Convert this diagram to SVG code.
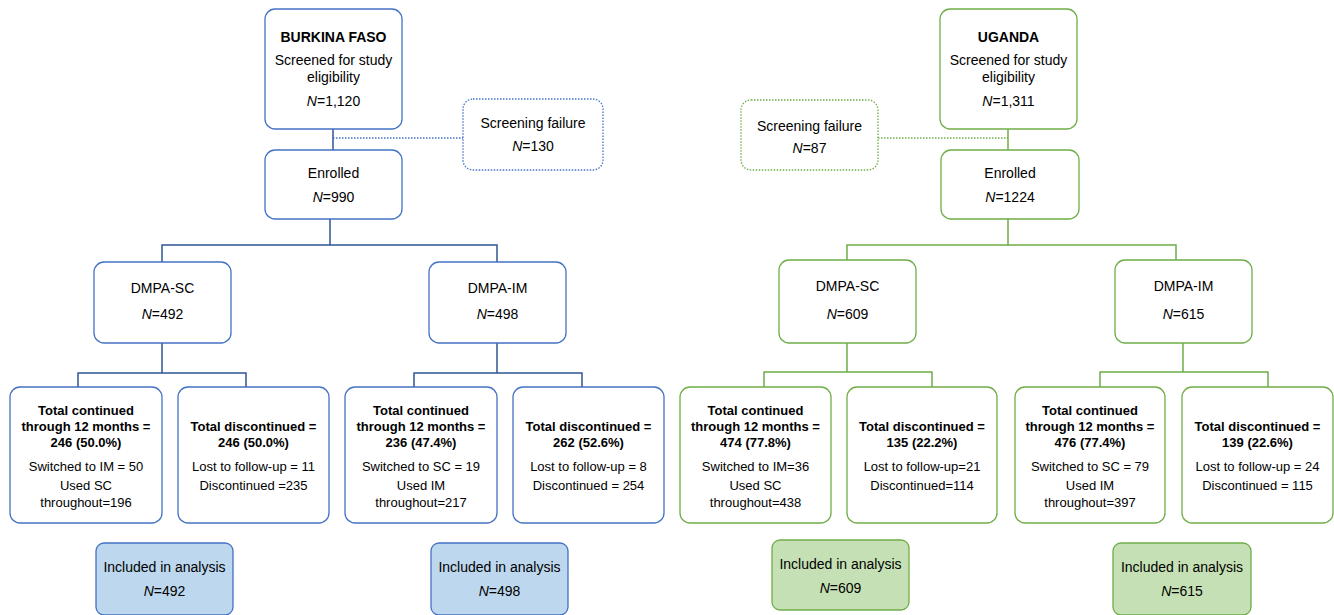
<svg xmlns="http://www.w3.org/2000/svg" width="1334" height="615" viewBox="0 0 1334 615">
<style>
text{font-family:"Liberation Sans",Arial,sans-serif;fill:#000;text-anchor:middle}
.t14{font-size:14px}
.t13{font-size:13px}
.b{font-weight:bold}
.bb{font-weight:bold;font-size:13px}
.bl{fill:#fff;stroke:#4472C4;stroke-width:1.3}
.gr{fill:#fff;stroke:#70AD47;stroke-width:1.3}
.bld{fill:#fff;stroke:#4472C4;stroke-width:1.3;stroke-dasharray:1.5 1.5}
.grd{fill:#fff;stroke:#70AD47;stroke-width:1.3;stroke-dasharray:1.5 1.5}
.blf{fill:#BDD7EE;stroke:#4472C4;stroke-width:1.3}
.grf{fill:#C5E0B4;stroke:#70AD47;stroke-width:1.3}
.cb{fill:none;stroke:#2F5597;stroke-width:1.5}
.cg{fill:none;stroke:#70AD47;stroke-width:1.5}
.cbd{fill:none;stroke:#4472C4;stroke-width:1.3;stroke-dasharray:1.5 1.5}
.cgd{fill:none;stroke:#70AD47;stroke-width:1.3;stroke-dasharray:1.5 1.5}
</style>
<g id="connectors">
<path class="cb" d="M333 129V150"/>
<path class="cbd" d="M333 138H463"/>
<path class="cb" d="M330 219V245M162 262V245H497V262"/>
<path class="cb" d="M162 343V373M78 387V373H246V387"/>
<path class="cb" d="M497 343V373M414 387V373H582V387"/>
<path class="cg" d="M1008 129V150"/>
<path class="cgd" d="M878 138H1008"/>
<path class="cg" d="M1008 219V245M847 260V245H1176V260"/>
<path class="cg" d="M847 343V372M764 387V372H932V387"/>
<path class="cg" d="M1183 343V372M1100 387V372H1268V387"/>
</g>
<g id="bf-screened"><rect class="bl" x="265" y="9" width="137" height="120" rx="10"/>
<text class="t14 b" x="333.5" y="42">BURKINA FASO</text>
<text class="t14" x="333.5" y="65">Screened for study</text>
<text class="t14" x="333.5" y="82">eligibility</text>
<text class="t14" x="333.5" y="106"><tspan font-style="italic">N</tspan>=1,120</text></g>
<g id="bf-fail"><rect class="bld" x="463" y="99" width="140" height="71" rx="10"/>
<text class="t14" x="533" y="128">Screening failure</text>
<text class="t14" x="533" y="151"><tspan font-style="italic">N</tspan>=130</text></g>
<g id="bf-enrolled"><rect class="bl" x="265" y="150" width="137" height="69" rx="10"/>
<text class="t14" x="333.5" y="178">Enrolled</text>
<text class="t14" x="333.5" y="202"><tspan font-style="italic">N</tspan>=990</text></g>
<g id="bf-sc"><rect class="bl" x="94" y="262" width="137" height="81" rx="10"/>
<text class="t14" x="162.5" y="293">DMPA-SC</text>
<text class="t14" x="162.5" y="319"><tspan font-style="italic">N</tspan>=492</text></g>
<g id="bf-im"><rect class="bl" x="429" y="262" width="137" height="81" rx="10"/>
<text class="t14" x="497.5" y="293">DMPA-IM</text>
<text class="t14" x="497.5" y="319"><tspan font-style="italic">N</tspan>=498</text></g>
<g id="bf-sc-cont"><rect class="bl" x="10" y="387" width="152" height="136" rx="10"/>
<text class="bb" x="86" y="415">Total continued</text>
<text class="bb" x="86" y="431">through 12 months =</text>
<text class="bb" x="86" y="447">246 (50.0%)</text>
<text class="t13" x="86" y="471">Switched to IM = 50</text>
<text class="t13" x="86" y="490">Used SC</text>
<text class="t13" x="86" y="507">throughout=196</text></g>
<g id="bf-sc-disc"><rect class="bl" x="178" y="387" width="151" height="136" rx="10"/>
<text class="bb" x="253.5" y="431">Total discontinued =</text>
<text class="bb" x="253.5" y="447">246 (50.0%)</text>
<text class="t13" x="253.5" y="471">Lost to follow-up = 11</text>
<text class="t13" x="253.5" y="490">Discontinued =235</text></g>
<g id="bf-im-cont"><rect class="bl" x="345" y="387" width="152" height="136" rx="10"/>
<text class="bb" x="421" y="415">Total continued</text>
<text class="bb" x="421" y="431">through 12 months =</text>
<text class="bb" x="421" y="447">236 (47.4%)</text>
<text class="t13" x="421" y="471">Switched to SC = 19</text>
<text class="t13" x="421" y="490">Used IM</text>
<text class="t13" x="421" y="507">throughout=217</text></g>
<g id="bf-im-disc"><rect class="bl" x="513" y="387" width="151" height="136" rx="10"/>
<text class="bb" x="588.5" y="431">Total discontinued =</text>
<text class="bb" x="588.5" y="447">262 (52.6%)</text>
<text class="t13" x="588.5" y="471">Lost to follow-up = 8</text>
<text class="t13" x="588.5" y="490">Discontinued = 254</text></g>
<g id="bf-sc-incl"><rect class="blf" x="96" y="543" width="137" height="72" rx="8"/>
<text class="t14" x="164.5" y="572">Included in analysis</text>
<text class="t14" x="164.5" y="596"><tspan font-style="italic">N</tspan>=492</text></g>
<g id="bf-im-incl"><rect class="blf" x="431" y="543" width="137" height="72" rx="8"/>
<text class="t14" x="499.5" y="572">Included in analysis</text>
<text class="t14" x="499.5" y="596"><tspan font-style="italic">N</tspan>=498</text></g>

<g id="ug-screened"><rect class="gr" x="940" y="9" width="137" height="120" rx="10"/>
<text class="t14 b" x="1008.5" y="42">UGANDA</text>
<text class="t14" x="1008.5" y="65">Screened for study</text>
<text class="t14" x="1008.5" y="82">eligibility</text>
<text class="t14" x="1008.5" y="106"><tspan font-style="italic">N</tspan>=1,311</text></g>
<g id="ug-fail"><rect class="grd" x="741" y="100" width="137" height="70" rx="10"/>
<text class="t14" x="809.5" y="131">Screening failure</text>
<text class="t14" x="809.5" y="153"><tspan font-style="italic">N</tspan>=87</text></g>
<g id="ug-enrolled"><rect class="gr" x="941" y="150" width="138" height="69" rx="10"/>
<text class="t14" x="1010" y="178">Enrolled</text>
<text class="t14" x="1010" y="202"><tspan font-style="italic">N</tspan>=1224</text></g>
<g id="ug-sc"><rect class="gr" x="779" y="260" width="137" height="83" rx="10"/>
<text class="t14" x="847.5" y="291">DMPA-SC</text>
<text class="t14" x="847.5" y="319"><tspan font-style="italic">N</tspan>=609</text></g>
<g id="ug-im"><rect class="gr" x="1115" y="260" width="137" height="83" rx="10"/>
<text class="t14" x="1183.5" y="291">DMPA-IM</text>
<text class="t14" x="1183.5" y="319"><tspan font-style="italic">N</tspan>=615</text></g>
<g id="ug-sc-cont"><rect class="gr" x="680" y="387" width="151" height="136" rx="10"/>
<text class="bb" x="755.5" y="415">Total continued</text>
<text class="bb" x="755.5" y="431">through 12 months =</text>
<text class="bb" x="755.5" y="447">474 (77.8%)</text>
<text class="t13" x="755.5" y="471">Switched to IM=36</text>
<text class="t13" x="755.5" y="490">Used SC</text>
<text class="t13" x="755.5" y="507">throughout=438</text></g>
<g id="ug-sc-disc"><rect class="gr" x="847" y="387" width="150" height="136" rx="10"/>
<text class="bb" x="922" y="431">Total discontinued =</text>
<text class="bb" x="922" y="447">135 (22.2%)</text>
<text class="t13" x="922" y="471">Lost to follow-up=21</text>
<text class="t13" x="922" y="490">Discontinued=114</text></g>
<g id="ug-im-cont"><rect class="gr" x="1015" y="387" width="150" height="136" rx="10"/>
<text class="bb" x="1090" y="415">Total continued</text>
<text class="bb" x="1090" y="431">through 12 months =</text>
<text class="bb" x="1090" y="447">476 (77.4%)</text>
<text class="t13" x="1090" y="471">Switched to SC = 79</text>
<text class="t13" x="1090" y="490">Used IM</text>
<text class="t13" x="1090" y="507">throughout=397</text></g>
<g id="ug-im-disc"><rect class="gr" x="1182" y="387" width="151" height="136" rx="10"/>
<text class="bb" x="1257.5" y="431">Total discontinued =</text>
<text class="bb" x="1257.5" y="447">139 (22.6%)</text>
<text class="t13" x="1257.5" y="471">Lost to follow-up = 24</text>
<text class="t13" x="1257.5" y="490">Discontinued = 115</text></g>
<g id="ug-sc-incl"><rect class="grf" x="772" y="540" width="137" height="70" rx="8"/>
<text class="t14" x="840.5" y="569">Included in analysis</text>
<text class="t14" x="840.5" y="593"><tspan font-style="italic">N</tspan>=609</text></g>
<g id="ug-im-incl"><rect class="grf" x="1113" y="543" width="138" height="72" rx="8"/>
<text class="t14" x="1182" y="572">Included in analysis</text>
<text class="t14" x="1182" y="596"><tspan font-style="italic">N</tspan>=615</text></g>
</svg>
